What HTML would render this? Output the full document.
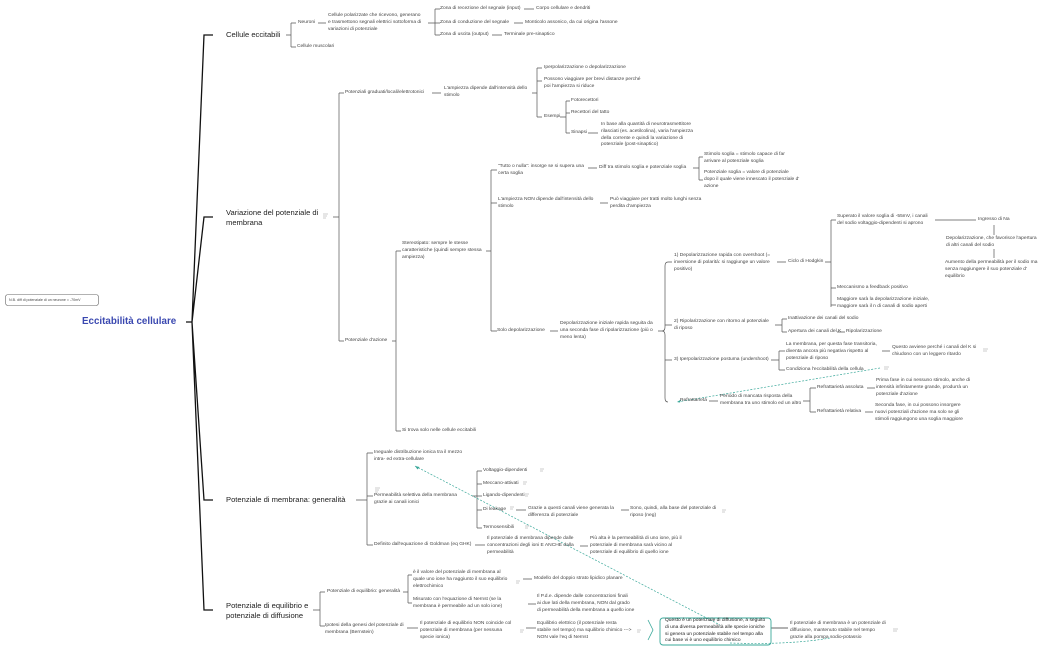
<!DOCTYPE html>
<html><head><meta charset="utf-8"><style>
body{margin:0;width:1050px;height:650px;background:#fff;position:relative;overflow:hidden;font-family:"Liberation Sans",sans-serif;}
.t{position:absolute;font-size:4.9px;line-height:6.8px;color:#444;white-space:nowrap;}
.m{position:absolute;font-size:7.6px;line-height:9.5px;color:#222;white-space:nowrap;}
svg{position:absolute;left:0;top:0;}
</style></head><body>
<svg width="1050" height="650" fill="none">
<g stroke="#111" stroke-width="1.3">
<path d="M186 322H192L204 35H213M192 322L204 217H213M192 322L204 500H213M192 322L204 610H213"/>
</g>
<g stroke="#555" stroke-width="0.7">
<path d="M286 35H291M291 23V47M291 23H296M291 47H296M318 23H326M428 23H435M435 9V35M435 9H440M435 23H440M435 35H440M524 9H534M514 23H523M492 35H502"/>
<path d="M333 217H339M339 93V341M339 93H344M339 341H344M432 93H441M532 93H537M537 68V117M537 68H542M537 81H542M537 117H542M560 117H566M566 101V133M566 101H570M566 113H570M566 133H570M588 133H598"/>
<path d="M392 341H396M396 251V431M396 251H401M396 431H401M486 251H491M491 170V331M491 170H497M491 203H497M491 331H497M588 168H597M693 168H699M699 157V180M699 157H703M699 180H703M600 203H608M550 331H558"/>
<path d="M658 331H663M668 262Q665 262 665 266V327Q665 331 662 331Q665 331 665 335V398Q665 402 668 402M668 262H672M665 325H672M665 360H672"/>
<path d="M777 262H786M825 262H831M831 220V307M831 220H836M831 288H836M831 305H836M935 220H976M994 225V235M994 249V258"/>
<path d="M775 325H782M782 319V332M782 319H787M782 332H787M837 332H845M771 360H779M779 351V370M779 351H785M779 370H785M882 351H890"/>
<path d="M709 401H718M803 401H810M810 388V412M810 388H816M810 412H816M867 388H875M865 412H873"/>
<path d="M356 500H367M367 453V545M367 453H373M367 496H373M367 545H373M472 496H477M477 471V528M477 471H482M477 484H482M477 496H482M477 510H482M477 528H482M516 510H526M621 510H629M475 545H485M580 546H588"/>
<path d="M313 610H320M320 592V626M320 592H325M320 626H325M403 592H408M408 575V603M408 575H412M408 603H412M523 579H532M528 604H536M407 628H418M526 628H536"/>
<path d="M771 628H788" stroke-width="1.5" stroke="#999"/>
</g>
<path d="M648 620L653 630L648 640" stroke="#3aa89a" stroke-width="0.8"/>
<rect x="660" y="618" width="111" height="27" rx="3" stroke="#3aa89a" stroke-width="0.9"/>
<g stroke="#3aa89a" stroke-width="0.7" stroke-dasharray="2 1.5">
<path d="M880 368L677 402"/><path d="M415 466L720 625"/><path d="M730 643Q790 645 830 638"/>
</g>
<path d="M677 402l4-2.5l-1 3z" fill="#3aa89a"/><path d="M415 466l4.5 1l-2 2.5z" fill="#3aa89a"/>
<rect x="5.5" y="294.5" width="93" height="11" rx="2.5" stroke="#666" stroke-width="0.6"/>
<g stroke="#999" stroke-width="0.6">
<path d="M323 214h5M323 216h4M323 218h3M375 488h5M375 490h4M375 492h3M516 581h4M516 583h3M520 630h4M520 632h3M637 630h4M637 632h3M893 629h5M893 631h4M983 349h5M983 351h4M884 367h5M884 369h4M540 469h4M540 471h3M523 482h4M523 484h3M525 494h4M525 496h3M510 507h4M510 509h3M525 526h4M525 528h3M722 510h4M722 512h3"/>
</g>
</svg>
<div class="t" style="left:9px;top:297px;font-size:3.6px">N.B. diff di potenziale di un neurone = -70mV</div>
<div style="position:absolute;left:82px;top:316px;font-size:9.8px;font-weight:bold;color:#3a48b0;white-space:nowrap">Eccitabilità cellulare</div>
<div class="m" style="left:226px;top:30px">Cellule eccitabili</div>
<div class="m" style="left:226px;top:208px">Variazione del potenziale di<br>membrana</div>
<div class="m" style="left:226px;top:495px">Potenziale di membrana: generalità</div>
<div class="m" style="left:226px;top:601px">Potenziale di equilibrio e<br>potenziale di diffusione</div>

<div class="t" style="left:298px;top:20px">Neuroni</div>
<div class="t" style="left:297px;top:44px">Cellule muscolari</div>
<div class="t" style="left:328px;top:13px">Cellule polarizzate che ricevono, generano<br>e trasmettono segnali elettrici sottoforma di<br>variazioni di potenziale</div>
<div class="t" style="left:440px;top:6px">Zona di recezione del segnale (input)</div>
<div class="t" style="left:536px;top:6px">Corpo cellulare e dendriti</div>
<div class="t" style="left:440px;top:20px">Zona di conduzione del segnale</div>
<div class="t" style="left:525px;top:20px">Monticolo assonico, da cui origina l'assone</div>
<div class="t" style="left:440px;top:32px">Zona di uscita (output)</div>
<div class="t" style="left:504px;top:32px">Terminale pre-sinaptico</div>

<div class="t" style="left:345px;top:90px">Potenziali graduati/locali/elettrotonici</div>
<div class="t" style="left:444px;top:86px">L'ampiezza dipende dall'intensità dello<br>stimolo</div>
<div class="t" style="left:544px;top:65px">Iperpolarizzazione o depolarizzazione</div>
<div class="t" style="left:544px;top:77px">Possono viaggiare per brevi distanze perché<br>poi l'ampiezza si riduce</div>
<div class="t" style="left:544px;top:114px">Esempi</div>
<div class="t" style="left:571px;top:98px">Fotorecettori</div>
<div class="t" style="left:571px;top:110px">Recettori del tatto</div>
<div class="t" style="left:571px;top:130px">Sinapsi</div>
<div class="t" style="left:601px;top:122px">In base alla quantità di neurotrasmettitore<br>rilasciati (es. acetilcolina), varia l'ampiezza<br>della corrente e quindi la variazione di<br>potenziale (post-sinaptico)</div>
<div class="t" style="left:498px;top:164px">“Tutto o nulla”: insorge se si supera una<br>certa soglia</div>
<div class="t" style="left:599px;top:165px">Diff tra stimolo soglia e potenziale soglia</div>
<div class="t" style="left:704px;top:152px">Stimolo soglia = stimolo capace di far<br>arrivare al potenziale soglia</div>
<div class="t" style="left:704px;top:170px">Potenziale soglia = valore di potenziale<br>dopo il quale viene innescato il potenziale d'<br>azione</div>
<div class="t" style="left:498px;top:197px">L'ampiezza NON dipende dall'intensità dello<br>stimolo</div>
<div class="t" style="left:610px;top:197px">Può viaggiare per tratti molto lunghi senza<br>perdita d'ampiezza</div>
<div class="t" style="left:402px;top:241px">Stereotipato: sempre le stesse<br>caratteristiche (quindi sempre stessa<br>ampiezza)</div>
<div class="t" style="left:345px;top:338px">Potenziale d'azione</div>
<div class="t" style="left:402px;top:428px">Si trova solo nelle cellule eccitabili</div>
<div class="t" style="left:497px;top:328px">Solo depolarizzazione</div>
<div class="t" style="left:560px;top:321px">Depolarizzazione iniziale rapida seguita da<br>una seconda fase di ripolarizzazione (più o<br>meno lenta)</div>
<div class="t" style="left:674px;top:253px">1) Depolarizzazione rapida con overshoot (=<br>inversione di polarità: si raggiunge un valore<br>positivo)</div>
<div class="t" style="left:788px;top:259px">Ciclo di Hodgkin</div>
<div class="t" style="left:837px;top:214px">Superato il valore soglia di -55mV, i canali<br>del sodio voltaggio-dipendenti si aprono</div>
<div class="t" style="left:978px;top:217px">Ingresso di Na</div>
<div class="t" style="left:946px;top:236px">Depolarizzazione, che favorisce l'apertura<br>di altri canali del sodio</div>
<div class="t" style="left:945px;top:260px">Aumento della permeabilità per il sodio ma<br>senza raggiungere il suo potenziale d'<br>equilibrio</div>
<div class="t" style="left:837px;top:285px">Meccanismo a feedback positivo</div>
<div class="t" style="left:837px;top:297px">Maggiore sarà la depolarizzazione iniziale,<br>maggiore sarà il n di canali di sodio aperti</div>
<div class="t" style="left:674px;top:319px">2) Ripolarizzazione con ritorno al potenziale<br>di riposo</div>
<div class="t" style="left:788px;top:316px">Inattivazione dei canali del sodio</div>
<div class="t" style="left:788px;top:329px">Apertura dei canali del K</div>
<div class="t" style="left:846px;top:329px">Ripolarizzazione</div>
<div class="t" style="left:674px;top:357px">3) Iperpolarizzazione postuma (undershoot)</div>
<div class="t" style="left:786px;top:342px">La membrana, per questa fase transitoria,<br>diventa ancora più negativa rispetto al<br>potenziale di riposo</div>
<div class="t" style="left:892px;top:345px">Questo avviene perché i canali del K si<br>chiudono con un leggero ritardo</div>
<div class="t" style="left:786px;top:367px">Condiziona l'eccitabilità della cellula</div>
<div class="t" style="left:680px;top:398px">Refrattarietà</div>
<div class="t" style="left:720px;top:394px">Periodo di mancata risposta della<br>membrana tra uno stimolo ed un altro</div>
<div class="t" style="left:817px;top:385px">Refrattarietà assoluta</div>
<div class="t" style="left:876px;top:378px">Prima fase in cui nessuno stimolo, anche di<br>intensità infinitamente grande, produrrà un<br>potenziale d'azione</div>
<div class="t" style="left:817px;top:409px">Refrattarietà relativa</div>
<div class="t" style="left:875px;top:403px">Seconda fase, in cui possono insorgere<br>nuovi potenziali d'azione ma solo se gli<br>stimoli raggiungono una soglia maggiore</div>

<div class="t" style="left:374px;top:450px">Ineguale distribuzione ionica tra il mezzo<br>intra- ed extra-cellulare</div>
<div class="t" style="left:374px;top:493px">Permeabilità selettiva della membrana<br>grazie ai canali ionici</div>
<div class="t" style="left:483px;top:468px">Voltaggio-dipendenti</div>
<div class="t" style="left:483px;top:481px">Meccano-attivati</div>
<div class="t" style="left:483px;top:493px">Ligando-dipendenti</div>
<div class="t" style="left:483px;top:507px">Di leakage</div>
<div class="t" style="left:528px;top:506px">Grazie a questi canali viene generata la<br>differenza di potenziale</div>
<div class="t" style="left:630px;top:506px">Sono, quindi, alla base del potenziale di<br>riposo (neg)</div>
<div class="t" style="left:483px;top:525px">Termosensibili</div>
<div class="t" style="left:374px;top:542px">Definito dall'equazione di Goldman (eq GHK)</div>
<div class="t" style="left:487px;top:536px">Il potenziale di membrana dipende dalle<br>concentrazioni degli ioni E ANCHE dalla<br>permeabilità</div>
<div class="t" style="left:590px;top:536px">Più alta è la permeabilità di uno ione, più il<br>potenziale di membrana sarà vicino al<br>potenziale di equilibrio di quello ione</div>

<div class="t" style="left:327px;top:589px">Potenziale di equilibrio: generalità</div>
<div class="t" style="left:413px;top:570px">è il valore del potenziale di membrana al<br>quale uno ione ha raggiunto il suo equilibrio<br>elettrochimico</div>
<div class="t" style="left:534px;top:576px">Modello del doppio strato lipidico planare</div>
<div class="t" style="left:413px;top:597px">Misurato con l'equazione di Nernst (se la<br>membrana è permeabile ad un solo ione)</div>
<div class="t" style="left:537px;top:594px">Il P.d.e. dipende dalle concentrazioni finali<br>ai due lati della membrana, NON dal grado<br>di permeabilità della membrana a quello ione</div>
<div class="t" style="left:325px;top:623px">Ipotesi della genesi del potenziale di<br>membrana (Bernstein)</div>
<div class="t" style="left:420px;top:621px">Il potenziale di equilibrio NON coincide col<br>potenziale di membrana (per nessuna<br>specie ionica)</div>
<div class="t" style="left:537px;top:621px">Equilibrio elettrico (il potenziale resta<br>stabile nel tempo) ma squilibrio chimico ---&gt;<br>NON vale l'eq di Nernst</div>
<div class="t" style="left:665px;top:618px;color:#222">Questo è un potenziale di diffusione, a seguito<br>di una diversa permeabilità alle specie ioniche<br>si genera un potenziale stabile nel tempo alla<br>cui base vi è uno equilibrio chimico</div>
<div class="t" style="left:790px;top:621px">Il potenziale di membrana è un potenziale di<br>diffusione, mantenuto stabile nel tempo<br>grazie alla pompa sodio-potassio</div>
</body></html>
